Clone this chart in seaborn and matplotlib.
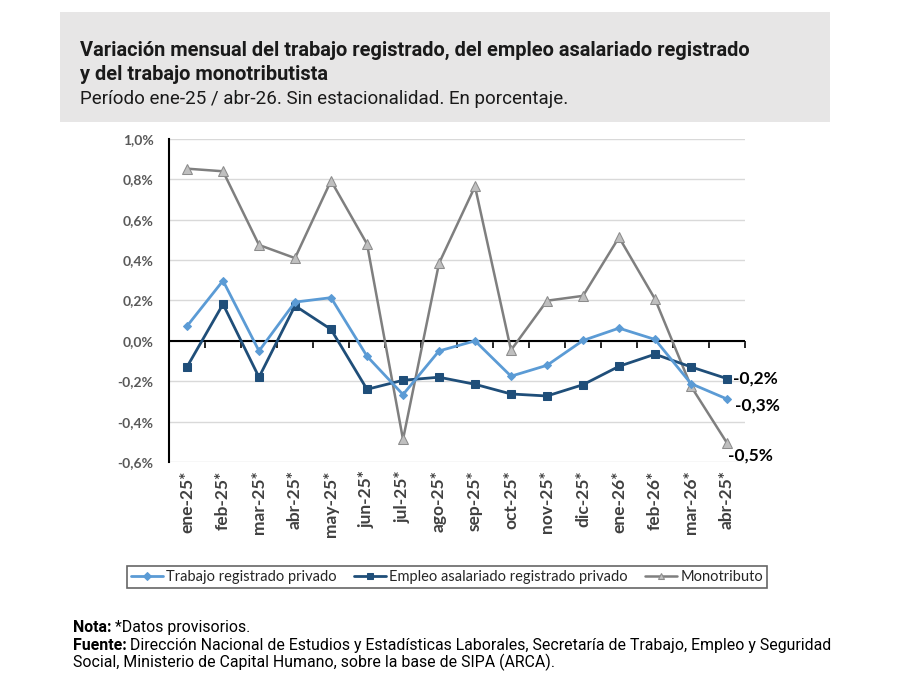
import matplotlib
matplotlib.use('Agg')
import matplotlib.pyplot as plt
import matplotlib.patches as mpatches
from matplotlib.ticker import FuncFormatter, FixedLocator
import seaborn as sns
import pandas as pd

# ~~~~~~~~~  Data  ~~~~~~~~~~~~~~~~~~~~~~~~~~~~~~~~~~~~~~~~~~~~~~~~~~~~~~~~~~~~ #
months = ['ene-25*', 'feb-25*', 'mar-25*', 'abr-25*', 'may-25*', 'jun-25*',
          'jul-25*', 'ago-25*', 'sep-25*', 'oct-25*', 'nov-25*', 'dic-25*',
          'ene-26*', 'feb-26*', 'mar-26*', 'abr-25*']
trabajo_privado = [0.073, 0.298, -0.050, 0.192, 0.214, -0.076, -0.266, -0.050,
                   0.000, -0.175, -0.121, 0.002, 0.063, 0.007, -0.212, -0.288]
asalariado_privado = [-0.129, 0.182, -0.180, 0.174, 0.057, -0.240, -0.195, -0.180,
                      -0.215, -0.263, -0.273, -0.217, -0.126, -0.066, -0.129, -0.187]
monotributo = [0.853, 0.840, 0.475, 0.410, 0.793, 0.480, -0.488, 0.384,
               0.765, -0.046, 0.199, 0.223, 0.513, 0.207, -0.225, -0.506]
end_labels = ['-0,3%', '-0,2%', '-0,5%']

names = ['Trabajo registrado privado', 'Empleo asalariado registrado privado', 'Monotributo']
colors = ['#5b9bd5', '#1f4e79', '#7f7f7f']

df = pd.DataFrame({'pos': range(len(months)), 'mes': months,
                   names[0]: trabajo_privado, names[1]: asalariado_privado,
                   names[2]: monotributo})

# ~~~~~~~~~  Figure  ~~~~~~~~~~~~~~~~~~~~~~~~~~~~~~~~~~~~~~~~~~~~~~~~~~~~~~~~~~~ #
sns.set_style('white')
plt.rcParams['font.family'] = ['Lato', 'DejaVu Sans']
head = ['Roboto', 'DejaVu Sans']

fig = plt.figure(figsize=(9.2, 6.87), dpi=100)
fig.patch.set_facecolor('white')

# grey header box
fig.patches.append(mpatches.Rectangle((0.065, 0.822), 0.837, 0.1605, transform=fig.transFigure,
                                      facecolor='#e7e6e6', edgecolor='none', zorder=0))
fig.text(0.087, 0.926, 'Variación mensual del trabajo registrado, del empleo asalariado registrado',
         fontsize=14.4, fontweight='bold', family=head, color='#1a1a1a', va='center')
fig.text(0.087, 0.891, 'y del trabajo monotributista',
         fontsize=14.4, fontweight='bold', family=head, color='#1a1a1a', va='center')
fig.text(0.087, 0.856, 'Período ene-25 / abr-26. Sin estacionalidad. En porcentaje.',
         fontsize=13.5, family=head, color='#1a1a1a', va='center')

ax = fig.add_axes([0.1837, 0.3275, 0.6261, 0.4702])

# lines
sns.lineplot(data=df, x='pos', y=names[0], ax=ax, color=colors[0], linewidth=2,
             marker='D', markersize=4.5, markeredgecolor=colors[0], label=names[0], zorder=4)
sns.lineplot(data=df, x='pos', y=names[1], ax=ax, color=colors[1], linewidth=2,
             marker='s', markersize=6, markeredgecolor=colors[1], label=names[1], zorder=3)
sns.lineplot(data=df, x='pos', y=names[2], ax=ax, color=colors[2], linewidth=1.8,
             marker='^', markersize=6.5, markerfacecolor='#bfbfbf', markeredgecolor='#8c8c8c',
             label=names[2], zorder=2)

# axes styling
ax.set_xlim(-0.5, len(months) - 0.5)
ax.set_ylim(-0.6, 1.0)
ax.set_yticks([-0.6, -0.4, -0.2, 0.0, 0.2, 0.4, 0.6, 0.8, 1.0])
ax.yaxis.set_major_formatter(FuncFormatter(lambda v, p: f'{v:.1f}%'.replace('.', ',')))
ax.grid(axis='y', color='#d9d9d9', linewidth=1)
ax.set_axisbelow(True)
for s in ['top', 'right', 'bottom']:
    ax.spines[s].set_visible(False)
ax.spines['left'].set_color('black')
ax.spines['left'].set_linewidth(1.5)
ax.tick_params(axis='y', direction='out', length=5, width=1.2, color='black',
               labelsize=10, labelcolor='#595959', pad=6)
for t in ax.get_yticklabels():
    t.set_fontweight('bold')
ax.set_xlabel('')
ax.set_ylabel('')

ax.set_xticks(df['pos'])
ax.set_xticklabels(months, rotation=90, fontsize=12.5, fontweight='bold', color='#404040')
ax.tick_params(axis='x', length=0, pad=6)

# zero axis line with boundary ticks
ax.axhline(0, color='black', linewidth=1.5, zorder=1)
sec = ax.secondary_xaxis(0.375)
sec.spines['bottom'].set_visible(False)
sec.set_xticks([])
sec.xaxis.set_minor_locator(FixedLocator([i - 0.5 for i in range(len(months) + 1)]))
sec.tick_params(which='minor', direction='out', length=5, width=1.2, color='black')

# end labels
last = len(months) - 1
ax.annotate(end_labels[1], (last, asalariado_privado[-1]), xytext=(4, 0),
            textcoords='offset points', ha='left', va='center', fontsize=12.5,
            fontweight='bold', color='black')
ax.annotate(end_labels[0], (last, trabajo_privado[-1]), xytext=(6, -5),
            textcoords='offset points', ha='left', va='center', fontsize=12.5,
            fontweight='bold', color='black')
ax.annotate(end_labels[2], (last, monotributo[-1]), xytext=(1, -9),
            textcoords='offset points', ha='left', va='center', fontsize=12.5,
            fontweight='bold', color='black')

# legend
ax.legend_.remove()
handles, labels = ax.get_legend_handles_labels()
leg = fig.legend(handles, labels, loc='center', bbox_to_anchor=(0.486, 0.16), ncol=3,
                 frameon=True, fancybox=False, edgecolor='#404040', fontsize=10.5,
                 handlelength=2.2, handletextpad=0.2, columnspacing=1.2,
                 borderpad=0.3)
leg.get_frame().set_linewidth(1.2)
for line in leg.get_lines():
    line.set_markersize(4)

# footnotes (bold lead word, then normal text right after it)
fs = 11.4
nota = fig.text(0.079, 0.087, 'Nota:', fontsize=fs, fontweight='bold', family=head,
                color='black', va='center')
fig.add_artist(plt.Annotation(' *Datos provisorios.', xy=(1, 0.5), xycoords=nota,
                              va='center', fontsize=fs, family=head, color='black'))
fuente = fig.text(0.079, 0.061, 'Fuente:', fontsize=fs, fontweight='bold', family=head,
                  color='black', va='center')
fig.add_artist(plt.Annotation(' Dirección Nacional de Estudios y Estadísticas Laborales, '
                              'Secretaría de Trabajo, Empleo y Seguridad', xy=(1, 0.5),
                              xycoords=fuente, va='center', fontsize=fs, family=head,
                              color='black'))
fig.text(0.079, 0.036, 'Social, Ministerio de Capital Humano, sobre la base de SIPA (ARCA).',
         fontsize=fs, family=head, color='black', va='center')

fig.savefig('out.png', dpi=100, facecolor='white')
